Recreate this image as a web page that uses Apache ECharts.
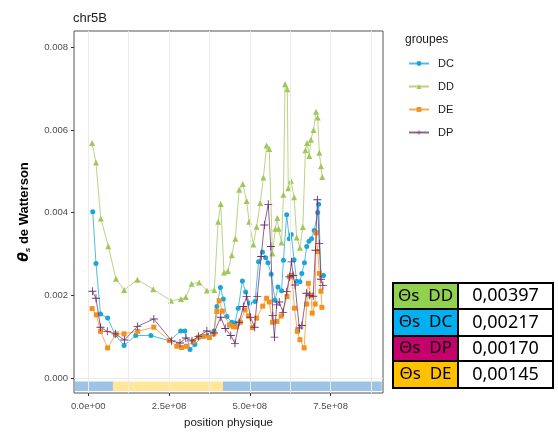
<!DOCTYPE html>
<html>
<head>
<meta charset="utf-8">
<script src="https://cdn.jsdelivr.net/npm/echarts@6.0.0/dist/echarts.min.js"></script>
<style>html,body{margin:0;padding:0;background:#fff}#chart{width:558px;height:434px}</style>
</head>
<body>
<div id="chart"></div>
<script>
// positions (bp) and theta_s values, one pair of arrays per group
var dcPos = [14e6, 24e6, 38e6, 60e6, 84e6, 111e6, 147e6, 194e6, 251e6, 286e6, 299e6, 315e6, 330e6, 353e6, 372e6, 389e6, 398e6, 409e6, 418e6, 429e6, 444e6, 454e6, 464e6, 477e6, 487e6, 499e6, 516e6, 527e6, 539e6, 549e6, 556e6, 566e6, 578e6, 587e6, 598e6, 604e6, 614e6, 622e6, 628e6, 637e6, 645e6, 655e6, 661e6, 669e6, 676e6, 683e6, 691e6, 699e6, 710e6, 713e6, 720e6, 728e6];
var dcVal = [0.00402, 0.00277, 0.00155, 0.00145, 0.00104, 0.00079, 0.00103, 0.00103, 0.00090, 0.00114, 0.00114, 0.00069, 0.00081, 0.00101, 0.00103, 0.00114, 0.00173, 0.00219, 0.00191, 0.00149, 0.00135, 0.00133, 0.00169, 0.00235, 0.00208, 0.00181, 0.00185, 0.00281, 0.00305, 0.00291, 0.00279, 0.00251, 0.00188, 0.00220, 0.00211, 0.00285, 0.00395, 0.00337, 0.00347, 0.00286, 0.00234, 0.00233, 0.00253, 0.00279, 0.00318, 0.00331, 0.00337, 0.00357, 0.00400, 0.00420, 0.00249, 0.00248];

var ddPos = [12e6, 24e6, 39e6, 62e6, 86e6, 111e6, 152e6, 201e6, 256e6, 287e6, 302e6, 320e6, 343e6, 367e6, 390e6, 402e6, 410e6, 420e6, 432e6, 444e6, 455e6, 467e6, 478e6, 490e6, 498e6, 511e6, 521e6, 532e6, 542e6, 552e6, 560e6, 570e6, 579e6, 585e6, 589e6, 598e6, 604e6, 609e6, 616e6, 619e6, 627e6, 637e6, 645e6, 655e6, 664e6, 672e6, 677e6, 684e6, 689e6, 697e6, 705e6, 710e6, 715e6, 720e6, 724e6];
var ddVal = [0.00568, 0.00521, 0.00386, 0.00319, 0.00240, 0.00213, 0.00238, 0.00215, 0.00187, 0.00191, 0.00196, 0.00228, 0.00231, 0.00212, 0.00213, 0.00378, 0.00421, 0.00255, 0.00259, 0.00297, 0.00337, 0.00455, 0.00469, 0.00428, 0.00378, 0.00323, 0.00366, 0.00423, 0.00485, 0.00562, 0.00554, 0.00301, 0.00361, 0.00387, 0.00361, 0.00328, 0.00443, 0.00710, 0.00698, 0.00459, 0.00477, 0.00437, 0.00340, 0.00315, 0.00365, 0.00551, 0.00568, 0.00537, 0.00576, 0.00600, 0.00644, 0.00630, 0.00545, 0.00512, 0.00486];

var dePos = [12e6, 25e6, 38e6, 60e6, 86e6, 111e6, 153e6, 203e6, 251e6, 274e6, 289e6, 304e6, 325e6, 341e6, 358e6, 375e6, 389e6, 398e6, 405e6, 415e6, 437e6, 449e6, 459e6, 470e6, 485e6, 496e6, 508e6, 521e6, 540e6, 552e6, 560e6, 570e6, 584e6, 597e6, 615e6, 623e6, 630e6, 638e6, 647e6, 655e6, 668e6, 676e6, 681e6, 689e6, 693e6, 702e6, 705e6, 710e6, 715e6, 720e6, 723e6];
var deVal = [0.00168, 0.00153, 0.00113, 0.00073, 0.00107, 0.00107, 0.00113, 0.00123, 0.00091, 0.00077, 0.00074, 0.00077, 0.00089, 0.00099, 0.00101, 0.00098, 0.00107, 0.00161, 0.00187, 0.00162, 0.00128, 0.00124, 0.00124, 0.00135, 0.00165, 0.00150, 0.00122, 0.00145, 0.00174, 0.00193, 0.00184, 0.00135, 0.00137, 0.00150, 0.00197, 0.00245, 0.00248, 0.00169, 0.00113, 0.00093, 0.00073, 0.00179, 0.00229, 0.00200, 0.00157, 0.00179, 0.00351, 0.00306, 0.00253, 0.00210, 0.00171];

var dpPos = [13e6, 24e6, 38e6, 59e6, 84e6, 112e6, 152e6, 203e6, 258e6, 284e6, 302e6, 321e6, 341e6, 367e6, 389e6, 410e6, 424e6, 441e6, 454e6, 467e6, 480e6, 490e6, 502e6, 515e6, 523e6, 535e6, 545e6, 557e6, 565e6, 571e6, 576e6, 583e6, 591e6, 603e6, 614e6, 623e6, 629e6, 634e6, 640e6, 653e6, 661e6, 675e6, 685e6, 696e6, 703e6, 709e6, 715e6, 720e6, 726e6];
var dpVal = [0.00210, 0.00193, 0.00123, 0.00113, 0.00107, 0.00092, 0.00125, 0.00143, 0.00090, 0.00085, 0.00097, 0.00090, 0.00101, 0.00114, 0.00109, 0.00147, 0.00120, 0.00103, 0.00084, 0.00135, 0.00173, 0.00197, 0.00147, 0.00123, 0.00197, 0.00294, 0.00370, 0.00420, 0.00318, 0.00151, 0.00099, 0.00177, 0.00184, 0.00159, 0.00209, 0.00245, 0.00281, 0.00248, 0.00225, 0.00121, 0.00127, 0.00205, 0.00200, 0.00198, 0.00309, 0.00431, 0.00325, 0.00239, 0.00224];

var groupNames = ['DC', 'DD', 'DE', 'DP'];
var groupColors = ['#1ba6d6', '#a3c65a', '#f39020', '#6e2f6c'];

// axis ticks
var xTickValues = [0, 2.5e8, 5e8, 7.5e8];
var xTickLabels = ['0.0e+00', '2.5e+08', '5.0e+08', '7.5e+08'];
var yTickValues = [0, 0.002, 0.004, 0.006, 0.008];
var yTickLabels = ['0.000', '0.002', '0.004', '0.006', '0.008'];
var xGridValues = [0, 1.25e8, 2.5e8, 3.75e8, 5e8, 6.25e8, 7.5e8, 8.75e8];
var yGridValues = [0, 0.001, 0.002, 0.003, 0.004, 0.005, 0.006, 0.007, 0.008];

// chromosome band under the curves
var bandStart = [-41e6, 76.5e6, 417e6];
var bandEnd = [76.5e6, 417e6, 908e6];
var bandColors = ['#9dc3e6', '#ffe699', '#9dc3e6'];
var bandTop = -0.00008, bandBottom = -0.00031;

// summary table on the right
var tableLabels = ['Θs  DD', 'Θs  DC', 'Θs  DP', 'Θs  DE'];
var tableValues = ['0,00397', '0,00217', '0,00170', '0,00145'];
var tableColors = ['#92d050', '#00b0f0', '#c8006e', '#ffc000'];

function pairs(xs, ys) {
    return xs.map(function (x, i) { return [x, ys[i]]; });
}

function drawChart() {
    var dom = document.getElementById('chart');
    var chart = echarts.init(dom, null, { renderer: 'canvas' });

    var symbols = ['circle', 'triangle', 'rect', 'path://M0,4.45H10V5.55H0ZM4.45,0H5.55V10H4.45Z'];
    var symbolSizes = [5, 6, 5, 8];
    var allPos = [dcPos, ddPos, dePos, dpPos];
    var allVal = [dcVal, ddVal, deVal, dpVal];

    var series = [];
    // background: grid lines + chromosome band
    series.push({
        name: 'grid',
        type: 'line',
        data: [],
        z: 1,
        silent: true,
        markLine: {
            silent: true,
            symbol: ['none', 'none'],
            label: { show: false },
            animation: false,
            lineStyle: { color: '#ebebeb', width: 1, type: 'solid' },
            emphasis: { disabled: true },
            data: xGridValues.map(function (v) { return { xAxis: v }; })
                .concat(yGridValues.map(function (v) { return { yAxis: v }; }))
        },
        markArea: {
            silent: true,
            emphasis: { disabled: true },
            data: bandStart.map(function (s, i) {
                return [
                    { xAxis: s, yAxis: bandTop, itemStyle: { color: bandColors[i], opacity: 1 } },
                    { xAxis: bandEnd[i], yAxis: bandBottom }
                ];
            })
        }
    });

    for (var i = 0; i < groupNames.length; i++) {
        series.push({
            name: groupNames[i],
            type: 'line',
            z: 3 + i,
            data: pairs(allPos[i], allVal[i]),
            symbol: symbols[i],
            symbolSize: symbolSizes[i],
            showSymbol: true,
            showAllSymbol: true,
            color: groupColors[i],
            itemStyle: { color: groupColors[i], borderWidth: 0 },
            lineStyle: { color: groupColors[i], width: 1, opacity: 0.75 },
            emphasis: { disabled: true }
        });
    }

    var graphics = [
        { type: 'text', left: 73, top: 12, style: { text: 'chr5B', fontSize: 13, fill: '#1a1a1a', fontFamily: 'Liberation Sans' } },
        { type: 'text', left: 405, top: 34, style: { text: 'groupes', fontSize: 12, fill: '#1a1a1a', fontFamily: 'Liberation Sans' } }
    ];
    var rowTops = [283, 309, 336, 361, 388];
    for (var r = 0; r < tableLabels.length; r++) {
        var h = rowTops[r + 1] - rowTops[r];
        graphics.push({
            type: 'rect', shape: { x: 393, y: rowTops[r], width: 65, height: h },
            style: { fill: tableColors[r], stroke: '#000', lineWidth: 2 }, z: 10
        });
        graphics.push({
            type: 'rect', shape: { x: 458, y: rowTops[r], width: 95, height: h },
            style: { fill: '#fff', stroke: '#000', lineWidth: 2 }, z: 10
        });
        graphics.push({
            type: 'text', z: 11, x: 425.5, y: rowTops[r] + h / 2,
            style: { text: tableLabels[r], fontSize: 17, fill: '#000', fontFamily: 'Noto Sans', align: 'center', verticalAlign: 'middle' }
        });
        graphics.push({
            type: 'text', z: 11, x: 505.5, y: rowTops[r] + h / 2,
            style: { text: tableValues[r], fontSize: 18, fill: '#000', fontFamily: 'Noto Sans', align: 'center', verticalAlign: 'middle' }
        });
    }

    var option = {
        animation: false,
        backgroundColor: '#fff',
        textStyle: { fontFamily: 'Liberation Sans' },
        grid: {
            left: 74, top: 31, width: 309, height: 364,
            show: true, borderColor: '#555', borderWidth: 1, backgroundColor: 'transparent'
        },
        legend: {
            data: groupNames,
            orient: 'vertical',
            left: 403,
            top: 53,
            itemWidth: 20,
            itemHeight: 6,
            itemGap: 12,
            textStyle: { fontSize: 11, color: '#1a1a1a', padding: [0, 0, 0, 4] },
            selectedMode: false
        },
        xAxis: {
            type: 'value',
            min: -44e6,
            max: 912e6,
            name: 'position physique',
            nameLocation: 'middle',
            nameGap: 24,
            nameTextStyle: { fontSize: 11.5, color: '#1a1a1a' },
            axisLine: { show: false, onZero: false },
            splitLine: { show: false },
            axisTick: { show: true, length: 3, lineStyle: { color: '#333' }, customValues: xTickValues },
            axisLabel: {
                fontSize: 9.5, color: '#4d4d4d', margin: 8, customValues: xTickValues,
                formatter: function (v) {
                    var k = xTickValues.indexOf(v);
                    return k >= 0 ? xTickLabels[k] : '';
                }
            }
        },
        yAxis: {
            type: 'value',
            min: -0.00036,
            max: 0.00839,
            name: '{t|θ}{s|s}{n| de Watterson}',
            nameLocation: 'middle',
            nameRotate: 90,
            nameGap: 42,
            nameTextStyle: {
                rich: {
                    t: { fontSize: 14, fontWeight: 'bold', fontStyle: 'italic', color: '#000', fontFamily: 'DejaVu Sans' },
                    s: { fontSize: 8, fontWeight: 'bold', fontStyle: 'italic', color: '#000', verticalAlign: 'bottom', padding: [7, 0, 0, 0] },
                    n: { fontSize: 13, fontWeight: 'bold', color: '#000' }
                }
            },
            axisLine: { show: false, onZero: false },
            splitLine: { show: false },
            axisTick: { show: true, length: 3, lineStyle: { color: '#333' }, customValues: yTickValues },
            axisLabel: {
                fontSize: 9.5, color: '#4d4d4d', margin: 6, customValues: yTickValues,
                formatter: function (v) {
                    for (var k = 0; k < yTickValues.length; k++) {
                        if (Math.abs(v - yTickValues[k]) < 1e-9) return yTickLabels[k];
                    }
                    return '';
                }
            }
        },
        graphic: graphics,
        series: series
    };

    chart.setOption(option);
}

drawChart();
</script>
</body>
</html>
